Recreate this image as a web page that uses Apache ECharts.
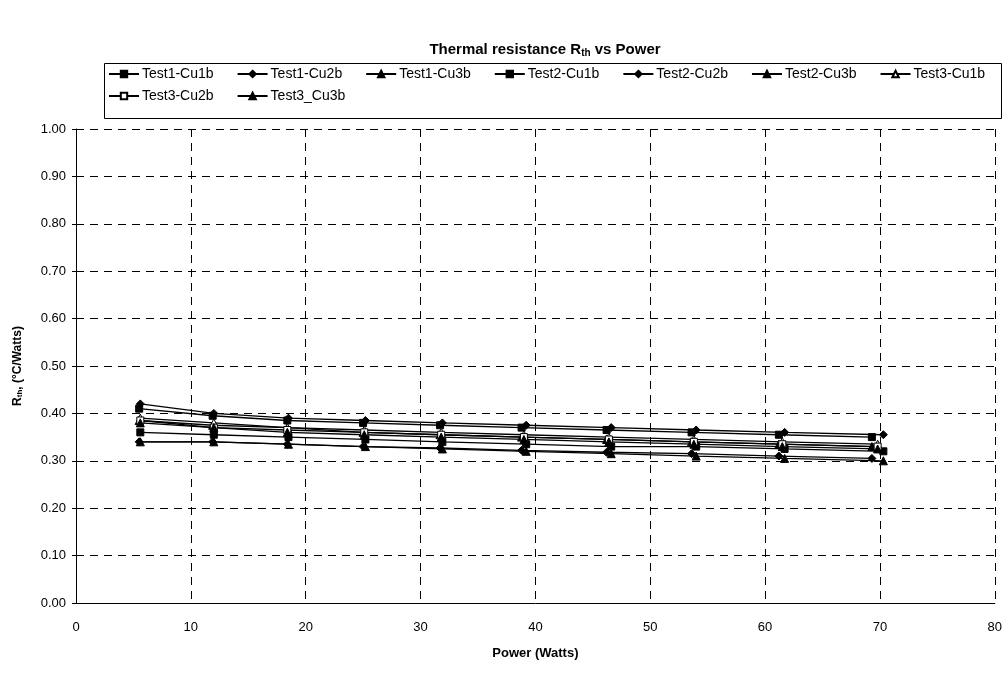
<!DOCTYPE html>
<html>
<head>
<meta charset="utf-8">
<script src="https://cdn.jsdelivr.net/npm/echarts@6/dist/echarts.min.js"></script>
<style>html,body{margin:0;padding:0;background:#fff}#c{width:1005px;height:677px}</style>
</head>
<body>
<div id="c"></div>
<script>
var seriesNames = ['Test1-Cu1b','Test1-Cu2b','Test1-Cu3b','Test2-Cu1b','Test2-Cu2b','Test2-Cu3b','Test3-Cu1b','Test3-Cu2b','Test3_Cu3b'];
var test1X = [5.6, 12.0, 18.5, 25.2, 31.9, 39.2, 46.6, 54.0, 61.7, 70.3];
var test2X = [5.5, 11.9, 18.4, 25.0, 31.7, 38.8, 46.2, 53.6, 61.2, 69.3];
var test3X = [5.6, 12.0, 18.4, 25.1, 31.8, 39.0, 46.4, 53.8, 61.5, 69.8];
var test1Cu1b = [0.36, 0.355, 0.35, 0.345, 0.34, 0.335, 0.33, 0.33, 0.325, 0.32];
var test1Cu2b = [0.42, 0.40, 0.39, 0.385, 0.38, 0.375, 0.37, 0.365, 0.36, 0.355];
var test1Cu3b = [0.34, 0.34, 0.335, 0.33, 0.325, 0.32, 0.315, 0.31, 0.305, 0.30];
var test2Cu1b = [0.41, 0.395, 0.385, 0.38, 0.375, 0.37, 0.365, 0.36, 0.355, 0.35];
var test2Cu2b = [0.34, 0.34, 0.335, 0.33, 0.327, 0.322, 0.318, 0.315, 0.31, 0.305];
var test2Cu3b = [0.385, 0.375, 0.37, 0.36, 0.355, 0.35, 0.345, 0.34, 0.335, 0.33];
var test3Cu1b = [0.39, 0.38, 0.37, 0.365, 0.36, 0.355, 0.35, 0.345, 0.34, 0.335];
var test3Cu2b = [0.385, 0.37, 0.365, 0.36, 0.355, 0.35, 0.345, 0.34, 0.335, 0.33];
var test3Cu3b = [0.38, 0.37, 0.36, 0.355, 0.35, 0.345, 0.34, 0.335, 0.33, 0.325];

var xs = [test1X, test1X, test1X, test2X, test2X, test2X, test3X, test3X, test3X];
var ys = [test1Cu1b, test1Cu2b, test1Cu3b, test2Cu1b, test2Cu2b, test2Cu3b, test3Cu1b, test3Cu2b, test3Cu3b];
var symbols = ['rect','diamond','triangle','rect','diamond','triangle','triangle','rect','triangle'];
var sizes = [7, 8, 8, 7, 8, 8, 8, 7, 8];
var hollow = [false,false,false,false,false,false,true,true,false];

var series = seriesNames.map(function(n, i){
  return {
    name: n, type: 'line',
    data: xs[i].map(function(x, j){ return [x, ys[i][j]]; }),
    symbol: symbols[i], symbolSize: sizes[i],
    showSymbol: true,
    lineStyle: {color: '#000', width: 1.3},
    itemStyle: {color: hollow[i] ? '#fff' : '#000', borderColor: '#000', borderWidth: 1},
    emphasis: {disabled: true},
    animation: false
  };
});

var legendCommon = {
  left: 108, padding: 0, orient: 'horizontal',
  itemWidth: 30, itemHeight: 8, itemGap: 23,
  textStyle: {fontSize: 14, color: '#000', fontFamily: 'Liberation Sans, Arial', padding: [0,0,0,-2]}
};

var chart = echarts.init(document.getElementById('c'), null, {renderer: 'canvas'});
chart.setOption({
  animation: false,
  backgroundColor: '#fff',
  textStyle: {fontFamily: 'Liberation Sans, Arial, sans-serif', color: '#000'},
  title: {
    text: '{a|Thermal resistance R}{s|th}{a| vs Power}',
    left: 540, top: 37, textAlign: 'center',
    textStyle: {rich: {
      a: {fontSize: 15, fontWeight: 'bold', color: '#000', fontFamily: 'Liberation Sans, Arial'},
      s: {fontSize: 10, fontWeight: 'bold', color: '#000', verticalAlign: 'bottom', padding: [6,0,0,0], fontFamily: 'Liberation Sans, Arial'}
    }}
  },
  graphic: [{
    type: 'rect', left: 102, top: 61, z: 0, silent: true,
    shape: {width: 897, height: 55},
    style: {fill: 'none', stroke: '#000', lineWidth: 1}
  }],
  legend: [
    Object.assign({}, legendCommon, {top: 67, data: seriesNames.slice(0, 7)}),
    Object.assign({}, legendCommon, {top: 89, data: seriesNames.slice(7)})
  ],
  grid: {left: 76, right: 10, top: 129, bottom: 74, containLabel: false},
  xAxis: {
    type: 'value', min: 0, max: 80, interval: 10,
    name: 'Power (Watts)', nameLocation: 'middle', nameGap: 44,
    nameTextStyle: {fontSize: 13, fontWeight: 'bold', color: '#000'},
    axisLine: {show: true, lineStyle: {color: '#000', width: 1}},
    axisTick: {show: false},
    axisLabel: {fontSize: 13, color: '#000', margin: 18},
    splitLine: {show: true, lineStyle: {color: '#000', type: [8, 6], width: 1}}
  },
  yAxis: {
    type: 'value', min: 0, max: 1, interval: 0.1,
    name: '{a|R}{s|th}{a|, (°C/Watts)}', nameLocation: 'middle', nameGap: 52, nameRotate: 90,
    nameTextStyle: {rich: {
      a: {fontSize: 12, fontWeight: 'bold', color: '#000', fontFamily: 'Liberation Sans, Arial'},
      s: {fontSize: 8, fontWeight: 'bold', color: '#000', verticalAlign: 'bottom', padding: [5,0,0,0], fontFamily: 'Liberation Sans, Arial'}
    }},
    axisLine: {show: true, lineStyle: {color: '#000', width: 1}},
    axisTick: {show: true, inside: false, length: 4, lineStyle: {color: '#000'}},
    axisLabel: {fontSize: 13, color: '#000', margin: 10, formatter: function(v){ return v.toFixed(2); }},
    splitLine: {show: true, lineStyle: {color: '#000', type: [8, 6], width: 1}}
  },
  series: series
});
</script>
</body>
</html>
